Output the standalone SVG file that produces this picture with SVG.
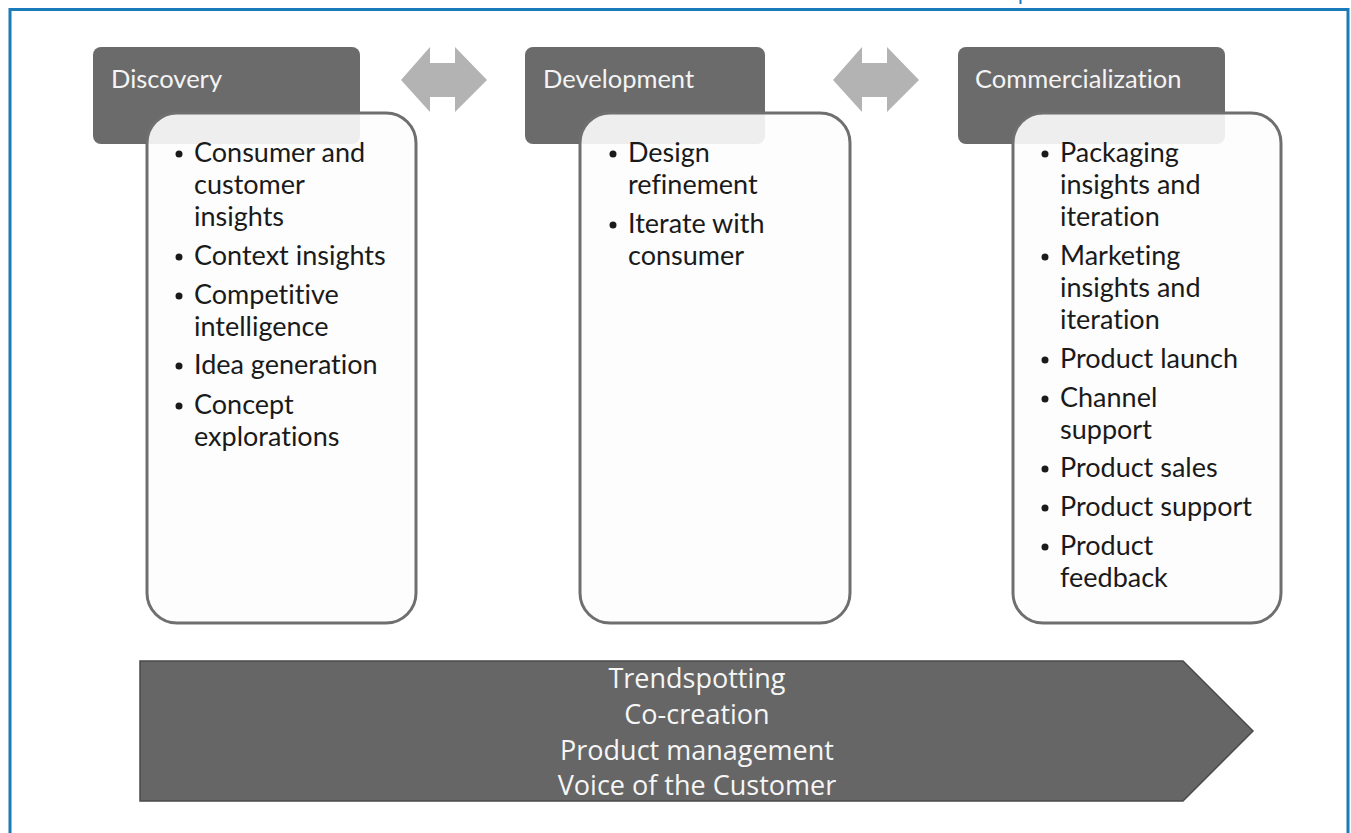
<svg xmlns="http://www.w3.org/2000/svg" width="1351" height="833" viewBox="0 0 1351 833">
  <style>
    .frame { fill: none; stroke: #1b7bba; stroke-width: 3; }
    .head { fill: #6b6b6b; }
    .head-text { font-family: Lato, "Open Sans", sans-serif; font-size: 25.5px; fill: #f4f4f4; font-variant-ligatures: none; }
    .card { fill: #fdfdfd; fill-opacity: 0.9; stroke: #6f6f6f; stroke-width: 3; }
    .item { font-family: Lato, "Open Sans", sans-serif; font-size: 27px; fill: #1a1a1a; font-variant-ligatures: none; }
    .dot { fill: #1a1a1a; }
    .swap { fill: #b3b3b3; }
    .band { fill: #666666; stroke: #4a4a4a; stroke-width: 1.5; }
    .band-text { font-family: "Open Sans", sans-serif; font-size: 27px; fill: #f6f6f6; text-anchor: middle; }
  </style>

  <rect width="1351" height="833" fill="#ffffff"/>

  <!-- page frame -->
  <path class="frame" d="M10,833 V9.5 H1348 V833"/>
  <rect x="1019.5" y="0" width="2" height="4" fill="#1b7bba"/>

  <!-- two-way arrows between the phases -->
  <g id="connectors">
    <polygon class="swap" points="401,80 430,47 430,63 455,63 455,47 487,80 455,112 455,97 430,97 430,112"/>
    <polygon class="swap" points="833,80 862,47 862,63 887,63 887,47 919,80 887,112 887,97 862,97 862,112"/>
  </g>

  <!-- Discovery -->
  <g id="discovery">
    <rect class="head" x="93" y="47" width="267" height="97" rx="8"/>
    <text class="head-text" x="111" y="88">Discovery</text>
    <rect class="card" x="147" y="113" width="269" height="510" rx="30"/>
    <g class="item">
      <circle class="dot" cx="179" cy="154" r="3.5"/>
      <text x="194" y="162">Consumer and</text>
      <text x="194" y="194">customer</text>
      <text x="194" y="226">insights</text>
      <circle class="dot" cx="179" cy="257" r="3.5"/>
      <text x="194" y="265">Context insights</text>
      <circle class="dot" cx="179" cy="296" r="3.5"/>
      <text x="194" y="304">Competitive</text>
      <text x="194" y="336">intelligence</text>
      <circle class="dot" cx="179" cy="366" r="3.5"/>
      <text x="194" y="374">Idea generation</text>
      <circle class="dot" cx="179" cy="406" r="3.5"/>
      <text x="194" y="414">Concept</text>
      <text x="194" y="446">explorations</text>
    </g>
  </g>

  <!-- Development -->
  <g id="development">
    <rect class="head" x="525" y="47" width="240" height="97" rx="8"/>
    <text class="head-text" x="543" y="88">Development</text>
    <rect class="card" x="580" y="113" width="270" height="510" rx="30"/>
    <g class="item">
      <circle class="dot" cx="613" cy="154" r="3.5"/>
      <text x="628" y="162">Design</text>
      <text x="628" y="194">refinement</text>
      <circle class="dot" cx="613" cy="225" r="3.5"/>
      <text x="628" y="233">Iterate with</text>
      <text x="628" y="265">consumer</text>
    </g>
  </g>

  <!-- Commercialization -->
  <g id="commercialization">
    <rect class="head" x="958" y="47" width="267" height="97" rx="8"/>
    <text class="head-text" x="975" y="88">Commercialization</text>
    <rect class="card" x="1013" y="113" width="268" height="510" rx="30"/>
    <g class="item">
      <circle class="dot" cx="1045" cy="154" r="3.5"/>
      <text x="1060" y="162">Packaging</text>
      <text x="1060" y="194">insights and</text>
      <text x="1060" y="226">iteration</text>
      <circle class="dot" cx="1045" cy="257" r="3.5"/>
      <text x="1060" y="265">Marketing</text>
      <text x="1060" y="297">insights and</text>
      <text x="1060" y="329">iteration</text>
      <circle class="dot" cx="1045" cy="360" r="3.5"/>
      <text x="1060" y="368">Product launch</text>
      <circle class="dot" cx="1045" cy="399" r="3.5"/>
      <text x="1060" y="407">Channel</text>
      <text x="1060" y="439">support</text>
      <circle class="dot" cx="1045" cy="469" r="3.5"/>
      <text x="1060" y="477">Product sales</text>
      <circle class="dot" cx="1045" cy="508" r="3.5"/>
      <text x="1060" y="516">Product support</text>
      <circle class="dot" cx="1045" cy="547" r="3.5"/>
      <text x="1060" y="555">Product</text>
      <text x="1060" y="587">feedback</text>
    </g>
  </g>

  <!-- shared activities band -->
  <g id="activities">
    <polygon class="band" points="140,661 1183,661 1253,731 1183,801 140,801"/>
    <text class="band-text" x="697" y="688">Trendspotting</text>
    <text class="band-text" x="697" y="724">Co-creation</text>
    <text class="band-text" x="697" y="760">Product management</text>
    <text class="band-text" x="697" y="795">Voice of the Customer</text>
  </g>
</svg>
